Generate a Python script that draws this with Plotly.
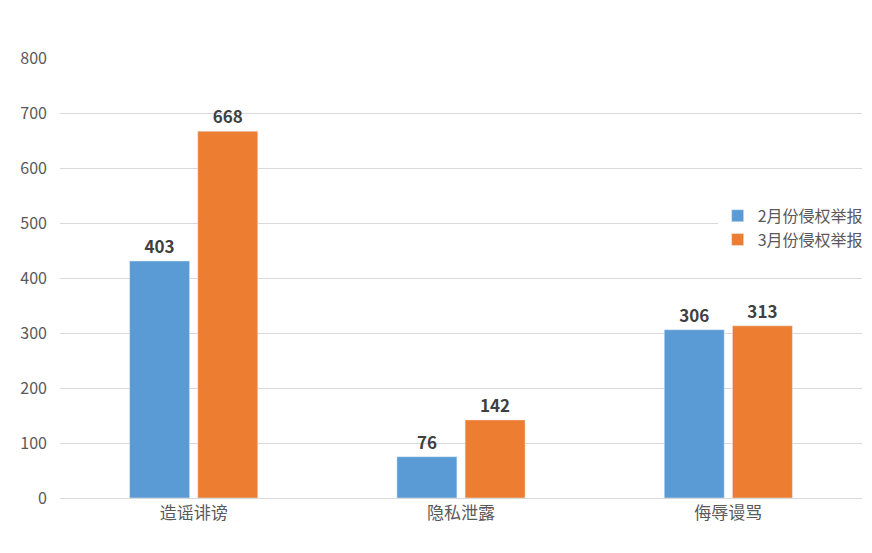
import plotly.graph_objects as go

categories = ["造谣诽谤", "隐私泄露", "侮辱谩骂"]
feb_heights = [431, 75, 306]
feb_labels = ["403", "76", "306"]
mar_heights = [667, 142, 313]
mar_labels = ["668", "142", "313"]

font = "Noto Sans CJK SC, Microsoft YaHei, sans-serif"
fig = go.Figure()
fig.add_bar(x=categories, y=feb_heights, name="2月份侵权举报", marker_color="#5B9BD5",
            text=feb_labels, textposition="outside", cliponaxis=False,
            textfont=dict(size=17, color="#404040", family=font, weight="bold"))
fig.add_bar(x=categories, y=mar_heights, name="3月份侵权举报", marker_color="#ED7D31",
            text=mar_labels, textposition="outside", cliponaxis=False,
            textfont=dict(size=17, color="#404040", family=font, weight="bold"))
fig.update_layout(
    width=872, height=553, plot_bgcolor="white", paper_bgcolor="white",
    margin=dict(l=52, r=16, t=50, b=63),
    barmode="group", bargap=0.49, bargroupgap=0.12,
    font=dict(family=font, color="#595959", size=16),
    legend=dict(x=0.82, y=0.68, xanchor="left", yanchor="top", font=dict(size=16),
                itemwidth=30, tracegroupgap=8),
    yaxis=dict(range=[0, 800], dtick=100, gridcolor="#D9D9D9", showline=False,
               zeroline=False, ticks="", tickfont=dict(size=16)),
    xaxis=dict(showline=True, linecolor="#D9D9D9", ticks="", tickfont=dict(size=17)),
)
fig.update_yaxes(ticklabelstandoff=12)
fig.write_html("out.html")
